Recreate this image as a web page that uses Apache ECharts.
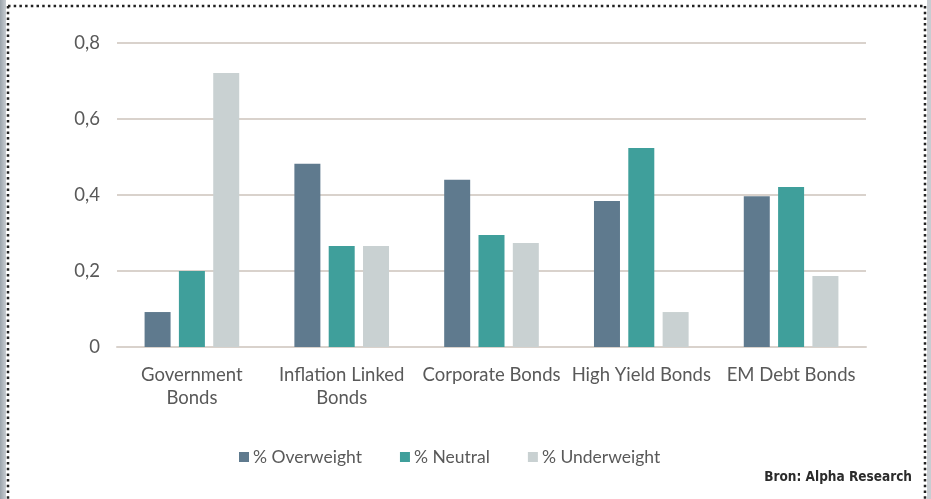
<!DOCTYPE html>
<html>
<head>
<meta charset="utf-8">
<script src="https://cdn.jsdelivr.net/npm/echarts@6/dist/echarts.min.js"></script>
<style>
  html, body { margin: 0; padding: 0; background: #fff; }
  #main { width: 931px; height: 499px; }
</style>
</head>
<body>
<div id="main"></div>
<script>
// categories and values
var categories = ['Government\nBonds', 'Inflation Linked\nBonds', 'Corporate Bonds', 'High Yield Bonds', 'EM Debt Bonds'];
var overweight = [0.092, 0.482, 0.44, 0.384, 0.397];
var neutral = [0.2, 0.266, 0.295, 0.524, 0.421];
var underweight = [0.721, 0.266, 0.274, 0.092, 0.187];
var yTicks = [0, 0.2, 0.4, 0.6, 0.8];

var myChart = echarts.init(document.getElementById('main'));
var font = 'Lato, "Open Sans", sans-serif';

var option = {
    backgroundColor: '#fff',
    animation: false,
    color: ['#5f7a8e', '#3f9f9b', '#c9d1d2'],
    grid: { left: 117, right: 65, top: 43, bottom: 152 },
    xAxis: {
        type: 'category',
        data: categories,
        axisLine: { show: true, lineStyle: { color: '#d9d2cc', width: 2 } },
        axisTick: { show: false },
        axisLabel: {
            color: '#595959', fontFamily: font, fontSize: 18.5,
            lineHeight: 23, margin: 17, interval: 0
        }
    },
    yAxis: {
        type: 'value',
        min: 0, max: 0.8, interval: 0.2,
        axisLine: { show: false },
        axisTick: { show: false },
        splitLine: { lineStyle: { color: '#d9d2cc', width: 2 } },
        axisLabel: {
            color: '#595959', fontFamily: font, fontSize: 18.5, margin: 17,
            formatter: function (v) {
                if (yTicks.indexOf(Math.round(v * 10) / 10) < 0) return '';
                return v === 0 ? '0' : String(Math.round(v * 10) / 10).replace('.', ',');
            }
        }
    },
    legend: {
        bottom: 28, left: 234,
        itemWidth: 10, itemHeight: 10, itemGap: 38,
        icon: 'rect',
        textStyle: { color: '#595959', fontFamily: font, fontSize: 17.5, padding: [0, 0, 0, -1] }
    },
    series: [
        { name: '% Overweight', type: 'bar', data: overweight, barWidth: 26, barGap: '32%' },
        { name: '% Neutral', type: 'bar', data: neutral, barWidth: 26, barGap: '32%' },
        { name: '% Underweight', type: 'bar', data: underweight, barWidth: 26, barGap: '32%' }
    ],
    graphic: [
        { type: 'rect', left: 0, top: 0, shape: { width: 6, height: 499 },
          style: { fill: new echarts.graphic.LinearGradient(0, 0, 1, 0, [
              { offset: 0, color: '#9aa3ab' }, { offset: 1, color: '#c8cdd2' }]) }, silent: true },
        { type: 'rect', left: 927, top: 0, shape: { width: 4, height: 499 },
          style: { fill: '#c8cdd2' }, silent: true },
        { type: 'line', shape: { x1: 8, y1: 6, x2: 925, y2: 6 },
          style: { stroke: '#222', lineWidth: 2.5, lineDash: [2.5, 3.2] }, silent: true },
        { type: 'line', shape: { x1: 8, y1: 6, x2: 8, y2: 499 },
          style: { stroke: '#222', lineWidth: 2.5, lineDash: [2.5, 3.2] }, silent: true },
        { type: 'line', shape: { x1: 925, y1: 6, x2: 925, y2: 499 },
          style: { stroke: '#222', lineWidth: 2.5, lineDash: [2.5, 3.2] }, silent: true },
        { type: 'text', right: 19, top: 470,
          style: { text: 'Bron: Alpha Research', fill: '#2b2b2b',
                   font: 'bold 13.5px "Liberation Sans Narrow", "DejaVu Sans Condensed", sans-serif' } }
    ]
};

myChart.setOption(option);
window.onresize = myChart.resize;
</script>
</body>
</html>
